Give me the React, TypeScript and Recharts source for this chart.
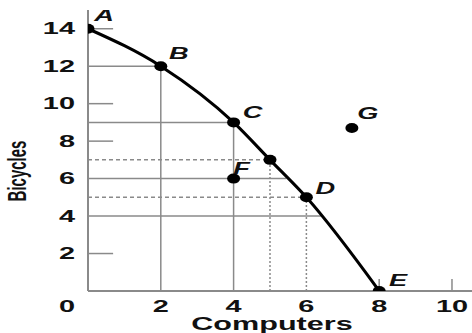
import React from 'react'
import {
  ComposedChart,
  Line,
  Scatter,
  XAxis,
  YAxis,
  ReferenceLine
} from 'recharts'

// frontier points
const curveX = [0, 2, 4, 5, 6, 8]
const curveY = [14, 12, 9, 7, 5, 0]
const curveNames = ['A', 'B', 'C', '', 'D', 'E']

// points off the frontier
const otherX = [4, 7.25]
const otherY = [6, 8.7]
const otherNames = ['F', 'G']

const xTicks = [0, 2, 4, 6, 8, 10]
const yTicks = [2, 4, 6, 8, 10, 12, 14]

// guide lines: [x1, y1, x2, y2]
const solidGuides = [
  [0, 12, 2, 12], [0, 9, 4, 9], [0, 6, 5.45, 6], [0, 4, 6.4, 4],
  [2, 0, 2, 12], [4, 0, 4, 9]
]
const dashedGuides = [[0, 7, 5, 7], [0, 5, 6, 5]]
const dottedGuides = [[5, 0, 5, 7], [6, 0, 6, 5]]
const shortTicks = [
  [0, 14, 0.69, 14], [0, 10, 0.69, 10], [0, 8, 0.69, 8], [0, 2, 0.69, 2],
  [8, 0, 8, 0.64], [10, 0, 10, 0.64]
]

const curveData = curveX.map((x, i) => ({ x, y: curveY[i], name: curveNames[i] }))
const otherData = otherX.map((x, i) => ({ x, y: otherY[i], name: otherNames[i] }))

const SX = 1.7
const GRID = '#8a8a8a'
const FONT = 'Liberation Sans, Arial, sans-serif'

const labelShift: Record<string, [number, number]> = {
  A: [16, -13], B: [18, -13], C: [19, -10], D: [19, -9],
  E: [19, -10], F: [8, -10], G: [16, -14]
}

const Stretched = ({ x, y, anchor = 'middle', size = 17, italic = false, weight = 'bold', children }: any) => (
  <text
    transform={`translate(${x},${y}) scale(${SX},1)`}
    textAnchor={anchor}
    dominantBaseline="central"
    fontFamily={FONT}
    fontSize={size}
    fontWeight={weight}
    fontStyle={italic ? 'italic' : 'normal'}
    fill="#111"
  >
    {children}
  </text>
)

const Dot = (props: any) => {
  const { cx, cy, payload } = props
  if (cx == null || cy == null) return null
  const s = labelShift[payload.name]
  return (
    <g>
      <ellipse cx={cx} cy={cy} rx={6.5} ry={5} fill="#000" />
      {s && (
        <Stretched x={cx + s[0]} y={cy + s[1]} italic size={16} weight={600}>
          {payload.name}
        </Stretched>
      )}
    </g>
  )
}

const XTick = (props: any) => {
  const { x, payload } = props
  if (payload.value === 0) {
    return <Stretched x={75} y={306} anchor="end" size={17}>0</Stretched>
  }
  return <Stretched x={x} y={306} size={17}>{payload.value}</Stretched>
}

const YTick = (props: any) => {
  const { y, payload } = props
  return <Stretched x={75} y={y} anchor="end" size={17}>{payload.value}</Stretched>
}

const seg = (g: number[]) => [{ x: g[0], y: g[1] }, { x: g[2], y: g[3] }]

export default function App() {
  return (
    <div style={{ position: 'absolute', left: 0, top: 0, background: '#fff' }}>
      <ComposedChart
        width={472}
        height={333}
        margin={{ top: 10, right: 0, bottom: 12, left: 28 }}
      >
        <XAxis
          type="number"
          dataKey="x"
          domain={[0, 10.55]}
          allowDataOverflow
          ticks={xTicks}
          tick={XTick}
          tickLine={false}
          axisLine={{ stroke: GRID, strokeWidth: 2 }}
          height={30}
        />
        <YAxis
          type="number"
          dataKey="y"
          domain={[0, 15]}
          allowDataOverflow
          ticks={yTicks}
          tick={YTick}
          tickLine={false}
          axisLine={{ stroke: GRID, strokeWidth: 2 }}
          width={60}
        />
        {solidGuides.map((g, i) => (
          <ReferenceLine key={'s' + i} segment={seg(g)} stroke={GRID} strokeWidth={1.5} />
        ))}
        {dashedGuides.map((g, i) => (
          <ReferenceLine key={'d' + i} segment={seg(g)} stroke={GRID} strokeWidth={1.5} strokeDasharray="4 3" />
        ))}
        {dottedGuides.map((g, i) => (
          <ReferenceLine key={'o' + i} segment={seg(g)} stroke={GRID} strokeWidth={1.5} strokeDasharray="2 2" />
        ))}
        {shortTicks.map((g, i) => (
          <ReferenceLine key={'t' + i} segment={seg(g)} stroke={GRID} strokeWidth={1.5} />
        ))}
        <Line
          data={curveData}
          dataKey="y"
          type="monotone"
          stroke="#000"
          strokeWidth={3}
          dot={Dot}
          activeDot={false}
          isAnimationActive={false}
        />
        <Scatter
          data={otherData}
          dataKey="y"
          shape={Dot}
          isAnimationActive={false}
        />
        <Stretched x={272} y={324} size={18}>Computers</Stretched>
        <text
          transform={`translate(17,171) scale(${SX},1) rotate(-90)`}
          textAnchor="middle"
          dominantBaseline="central"
          fontFamily={FONT}
          fontSize={15}
          fontWeight="bold"
          fill="#111"
        >
          Bicycles
        </text>
      </ComposedChart>
    </div>
  )
}
